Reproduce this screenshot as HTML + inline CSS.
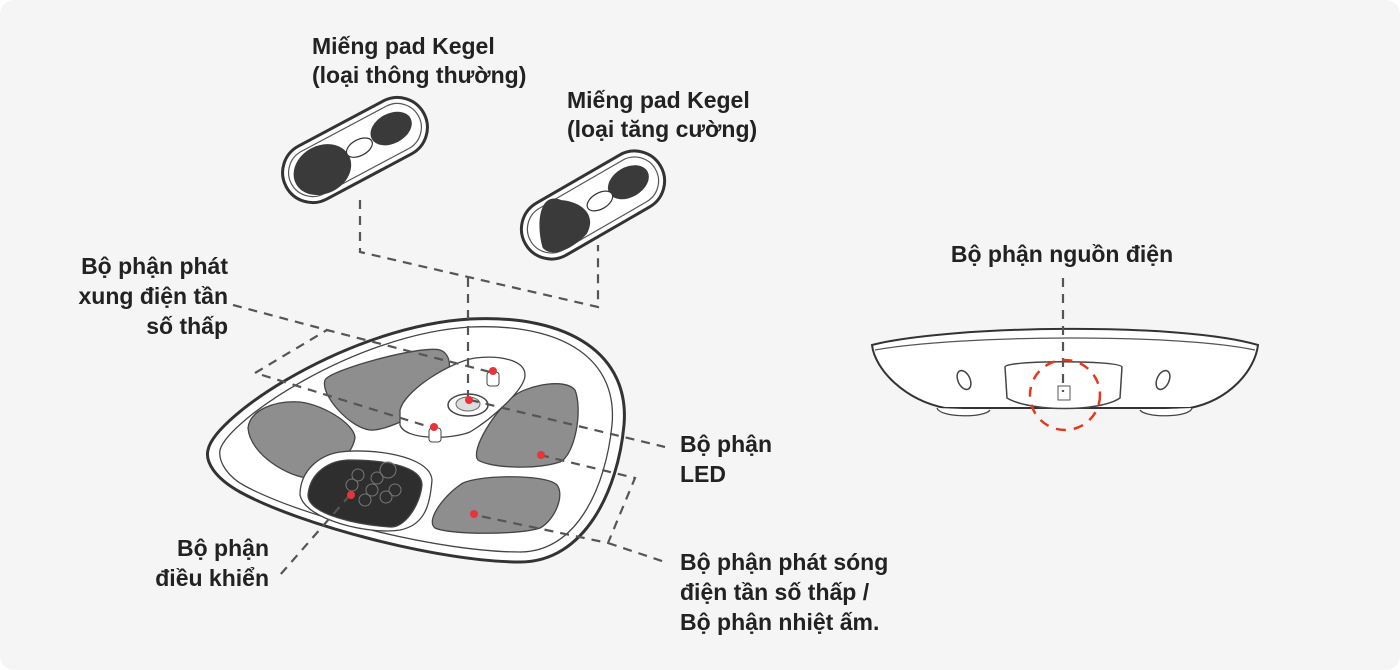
<!DOCTYPE html>
<html><head><meta charset="utf-8"><style>
html,body{margin:0;padding:0;background:#fff}
svg{display:block}
text{font-family:"Liberation Sans",sans-serif;font-weight:bold;font-size:23px;fill:#222}
</style></head><body>
<svg width="1400" height="670" viewBox="0 0 1400 670">
<rect x="0" y="0" width="1400" height="670" rx="14" fill="#f5f5f5"/>
<!-- pad 1 -->
<g transform="translate(355,150) rotate(-28)">
<rect x="-78" y="-30" width="156" height="60" rx="30" fill="#fff" stroke="#333" stroke-width="3"/>
<rect x="-72" y="-24" width="144" height="48" rx="24" fill="none" stroke="#555" stroke-width="1.2"/>
<ellipse cx="-38" cy="2" rx="30" ry="24" fill="#3a3a3a"/>
<ellipse cx="42" cy="-2" rx="22" ry="15" fill="#3a3a3a"/>
<ellipse cx="5" cy="0" rx="14" ry="8" fill="#fff" stroke="#333" stroke-width="1.2"/>
</g>
<!-- pad 2 -->
<g transform="translate(593,205) rotate(-30)">
<rect x="-78" y="-30" width="156" height="60" rx="30" fill="#fff" stroke="#333" stroke-width="3"/>
<rect x="-72" y="-24" width="144" height="48" rx="24" fill="none" stroke="#555" stroke-width="1.2"/>
<path d="M-65,12 C-60,-10 -40,-40 -25,-20 C-10,-10 0,10 -20,22 C-40,28 -62,26 -65,12Z" fill="#3a3a3a"/>
<ellipse cx="42" cy="-2" rx="22" ry="15" fill="#3a3a3a"/>
<ellipse cx="8" cy="0" rx="14" ry="8" fill="#fff" stroke="#333" stroke-width="1.2"/>
</g>
<!-- main device -->
<path d="M208,450 C215,415 350,326 470,319 C570,314 630,355 624,425 C618,490 585,562 520,562 C440,562 300,525 240,492 C215,478 205,462 208,450Z" fill="#fff" stroke="#333" stroke-width="3"/>
<path d="M220,450 C228,420 355,334 470,327 C565,323 618,360 612,425 C606,485 578,552 520,552 C440,552 305,518 245,486 C228,477 218,462 220,450Z" fill="none" stroke="#444" stroke-width="1.3"/>
<g stroke="#444" stroke-width="1.3">
<path d="M325,380 C330,370 420,345 440,350 C455,355 450,380 440,395 C430,410 385,432 370,430 C350,428 320,395 325,380Z" fill="#8e8e8e"/>
<path d="M248,428 C250,410 275,400 300,402 C325,405 355,425 355,438 C352,455 330,478 310,478 C290,478 250,455 248,428Z" fill="#8e8e8e"/>
<path d="M515,395 C530,385 565,378 575,390 C583,410 575,455 560,462 C535,470 490,468 478,460 C470,450 495,410 515,395Z" fill="#8e8e8e"/>
<path d="M460,485 C470,475 545,473 557,485 C565,495 555,520 540,528 C520,535 450,535 435,528 C425,520 445,495 460,485Z" fill="#8e8e8e"/>
<path d="M300,495 C300,470 320,455 340,452 C370,448 430,455 432,480 C430,505 425,525 400,530 C370,535 305,520 300,495Z" fill="#fff"/>
<path d="M308,495 C310,472 330,460 350,460 C380,460 422,465 422,485 C420,505 405,528 390,527 C360,525 308,515 308,495Z" fill="#2e2e2e"/>
<path d="M400,410 C405,390 450,362 475,358 C500,355 525,360 525,375 C525,390 490,420 470,432 C450,440 405,440 400,425Z" fill="#fff"/>
</g>
<g fill="none" stroke="#777" stroke-width="1">
<circle cx="358" cy="475" r="6"/><circle cx="377" cy="478" r="6"/><circle cx="388" cy="470" r="8"/><circle cx="372" cy="490" r="6"/><circle cx="352" cy="485" r="6"/><circle cx="395" cy="490" r="6"/><circle cx="386" cy="497" r="6"/><circle cx="365" cy="500" r="6"/>
</g>
<ellipse cx="468" cy="405" rx="20" ry="11" fill="#fff" stroke="#444" stroke-width="1.5"/>
<ellipse cx="468" cy="404" rx="12" ry="7" fill="#ddd" stroke="#666"/>
<rect x="487" y="372" width="12" height="14" rx="3" fill="#fff" stroke="#444"/>
<rect x="429" y="428" width="12" height="14" rx="3" fill="#fff" stroke="#444"/>
<!-- right device -->
<path d="M872,345 C950,325 1180,322 1258,345 C1255,370 1230,400 1190,408 L945,408 C905,400 875,370 872,345Z" fill="#fff" stroke="#333" stroke-width="2"/>
<path d="M875,350 C960,335 1175,333 1255,350" fill="none" stroke="#555" stroke-width="1.2"/>
<path d="M937,408 C940,418 985,418 990,410 M1140,410 C1145,418 1190,418 1192,408" fill="#fff" stroke="#444" stroke-width="1.3"/>
<path d="M1005,367 C1005,360 1120,360 1122,367 L1120,398 C1100,412 1030,412 1007,398Z" fill="#fff" stroke="#444" stroke-width="1.5"/>
<ellipse cx="964" cy="380" rx="6" ry="10" transform="rotate(-25 964 380)" fill="#fff" stroke="#444" stroke-width="1.5"/>
<ellipse cx="1163" cy="380" rx="6" ry="10" transform="rotate(25 1163 380)" fill="#fff" stroke="#444" stroke-width="1.5"/>
<rect x="1058" y="386" width="12" height="14" fill="#fff" stroke="#555"/>
<!-- dashed leaders on top -->
<g fill="none" stroke="#555" stroke-width="2.2" stroke-dasharray="9,7">
<path d="M360,200 V252 L598,307 V245"/>
<path d="M468,278 V400"/>
<path d="M233,305 L327,330 L490,372"/>
<path d="M255,373 L327,330"/>
<path d="M262,375 L433,428"/>
<path d="M470,400 L665,447"/>
<path d="M540,455 L635,478 L608,543 L475,515"/>
<path d="M608,543 L665,562"/>
<path d="M350,495 L280,575"/>
<path d="M1063,278 V392"/>
</g>
<circle cx="1065" cy="395" r="35" fill="none" stroke="#e2391f" stroke-width="2.5" stroke-dasharray="10,8"/>
<g fill="#e8333a">
<circle cx="493" cy="371" r="4"/><circle cx="469" cy="400" r="4"/><circle cx="434" cy="427" r="4"/><circle cx="541" cy="455" r="4"/><circle cx="474" cy="514" r="4"/><circle cx="351" cy="495" r="4"/>
</g>
<!-- labels -->
<text x="312" y="54">Miếng pad Kegel</text>
<text x="312" y="83">(loại thông thường)</text>
<text x="567" y="108">Miếng pad Kegel</text>
<text x="567" y="137">(loại tăng cường)</text>
<text x="228" y="274" text-anchor="end">Bộ phận phát</text>
<text x="228" y="304" text-anchor="end">xung điện tần</text>
<text x="228" y="334" text-anchor="end">số thấp</text>
<text x="680" y="452">Bộ phận</text>
<text x="680" y="482">LED</text>
<text x="269" y="556" text-anchor="end">Bộ phận</text>
<text x="269" y="586" text-anchor="end">điều khiển</text>
<text x="680" y="570">Bộ phận phát sóng</text>
<text x="680" y="600">điện tần số thấp /</text>
<text x="680" y="630">Bộ phận nhiệt ấm.</text>
<text x="1062" y="262" text-anchor="middle">Bộ phận nguồn điện</text>
</svg>
</body></html>
